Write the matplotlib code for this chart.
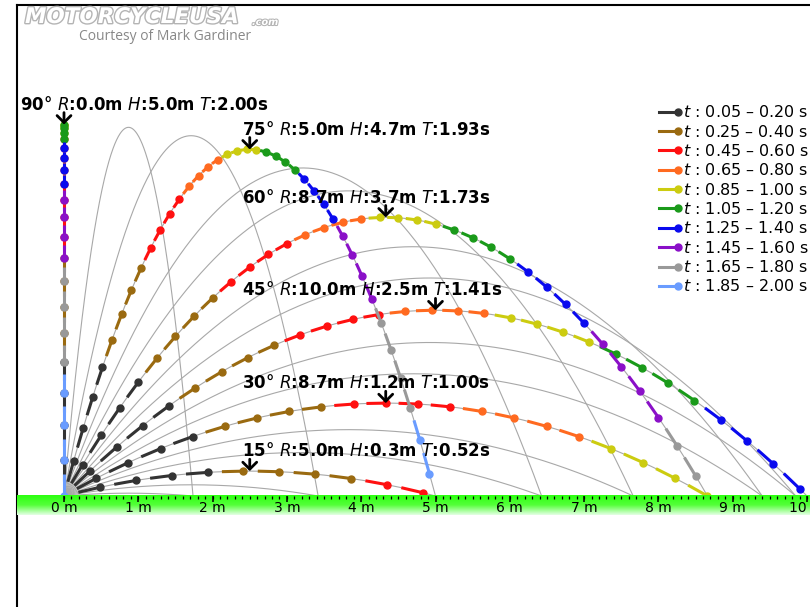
import numpy as np
import matplotlib
matplotlib.use("Agg")
import matplotlib.pyplot as plt
import matplotlib.patheffects as pe
from matplotlib.colors import LinearSegmentedColormap
from matplotlib.legend_handler import HandlerLine2D
from matplotlib.lines import Line2D

# launch speed (m/s) and gravity (m/s^2): 45 deg gives 10 m, 90 deg gives 2.00 s
v0 = 10.0
g = 10.0
dt = 0.05

angles = [15, 30, 45, 60, 75, 90]
ranges = [5.0, 8.7, 10.0, 8.7, 5.0, 0.0]
heights = [0.3, 1.2, 2.5, 3.7, 4.7, 5.0]
flight_times = [0.52, 1.00, 1.41, 1.73, 1.93, 2.00]

# thin grey trajectories every 5 degrees
grey_angles = list(range(5, 91, 5))

bin_labels = ["0.05 – 0.20", "0.25 – 0.40", "0.45 – 0.60", "0.65 – 0.80",
              "0.85 – 1.00", "1.05 – 1.20", "1.25 – 1.40", "1.45 – 1.60",
              "1.65 – 1.80", "1.85 – 2.00"]
bin_colors = ["#333333", "#9a6a10", "#ff1010", "#ff6a20", "#cccc10",
              "#1a9a1a", "#0a0aee", "#8a10c8", "#999999", "#6a9cff"]

ruler_ticks = list(range(0, 11))


def pos(angle, t):
    th = np.radians(angle)
    return v0 * np.cos(th) * t, v0 * np.sin(th) * t - 0.5 * g * t ** 2


PPM = 74.3
fig = plt.figure(figsize=(8.10, 6.07), dpi=100)
ax = fig.add_axes([17 / 810, 0, 1 - 17 / 810, 1 - 4.5 / 607])
x0, x1 = (17 - 64) / PPM, (810 - 64) / PPM
y0, y1 = (496 - 607) / PPM, (496 - 4.5) / PPM

# grey background trajectories
for a in grey_angles:
    T = 2 * v0 * np.sin(np.radians(a)) / g
    tt = np.linspace(0, T, 300)
    xs, ys = pos(a, tt)
    ax.plot(xs, ys, color="#a8a8a8", lw=0.8, zorder=1)

# coloured sample points with short tails
for a in angles:
    T = 2 * v0 * np.sin(np.radians(a)) / g
    n = int(np.floor(T / dt + 1e-6))
    for k in range(1, n + 1):
        t = k * dt
        c = bin_colors[min((k - 1) // 4, len(bin_colors) - 1)]
        xa, ya = pos(a, t - 0.6 * dt)
        xb, yb = pos(a, t)
        ax.plot([xa, xb], [ya, yb], color=c, lw=2.2, solid_capstyle="butt", zorder=3)
        ax.plot(xb, yb, "o", color=c, ms=5, zorder=3)

# apex arrows and labels
for a, r, h, T in zip(angles, ranges, heights, flight_times):
    th = np.radians(a)
    xa = v0 ** 2 * np.sin(2 * th) / (2 * g)
    ya = (v0 * np.sin(th)) ** 2 / (2 * g)
    ax.annotate("", xy=(xa, ya), xytext=(xa, ya + 0.16),
                arrowprops=dict(arrowstyle="->,head_width=0.5,head_length=0.5",
                                lw=2, color="black", shrinkA=0, shrinkB=0),
                zorder=6)
    tx = -0.59 if a == 90 else 2.40
    ax.text(tx, ya + 0.2, f"{a}° $R$:{r:.1f}m $H$:{h:.1f}m $T$:{T:.2f}s",
            fontsize=12, fontweight="bold", va="baseline", zorder=6)

# green ruler along the ground
grad = np.linspace(0, 1, 64).reshape(-1, 1)
cmap = LinearSegmentedColormap.from_list("ground", ["#2cff10", "#55ff3a", "#e4ffe4"])
ax.imshow(grad, cmap=cmap, extent=[x0, x1, -0.26, 0], aspect="auto",
          origin="upper", zorder=5)
minor = np.arange(0, 10.05, 0.1)
ax.vlines(minor, -0.035, 0, color="black", lw=0.9, zorder=6)
ax.vlines(ruler_ticks, -0.075, 0, color="black", lw=1.1, zorder=6)
for m in ruler_ticks:
    ax.text(m, -0.165, f"{m} m", ha="center", va="center", fontsize=10, zorder=7)

ax.set_xlim(x0, x1)
ax.set_ylim(y0, y1)
ax.set_xticks([])
ax.set_yticks([])
for s in ["right", "bottom"]:
    ax.spines[s].set_visible(False)
for s in ["left", "top"]:
    ax.spines[s].set_linewidth(1.5)


class TailHandler(HandlerLine2D):
    def create_artists(self, *args, **kwargs):
        arts = super().create_artists(*args, **kwargs)
        arts[0].set_markevery([2])
        return arts


handles = [Line2D([], [], color=c, lw=2.2, marker="o", ms=5) for c in bin_colors]
labels = [f"$t$ : {b} s" for b in bin_labels]
ax.legend(handles, labels, loc="upper left", bbox_to_anchor=(0.8015, 0.845),
          frameon=False, fontsize=11.5, handlelength=1.2, handletextpad=0.3,
          labelspacing=0.21, borderaxespad=0, numpoints=1,
          handler_map={Line2D: TailHandler()})

# logo
fig.text(25 / 810, 1 - 17 / 607, "MOTORCYCLEUSA", fontsize=15.5, fontweight="heavy",
         fontstyle="italic", color="white", va="center", ha="left",
         path_effects=[pe.withStroke(linewidth=2, foreground="#b4b4b4")])
fig.text(252 / 810, 1 - 22 / 607, ".com", fontsize=7, fontweight="bold",
         fontstyle="italic", color="white", va="center", ha="left",
         path_effects=[pe.withStroke(linewidth=1.5, foreground="#b4b4b4")])
fig.text(165 / 810, 1 - 37 / 607, "Courtesy of Mark Gardiner", fontsize=10,
         family="Open Sans", color="#888888", ha="center", va="center")

fig.savefig("out.png", dpi=100)
